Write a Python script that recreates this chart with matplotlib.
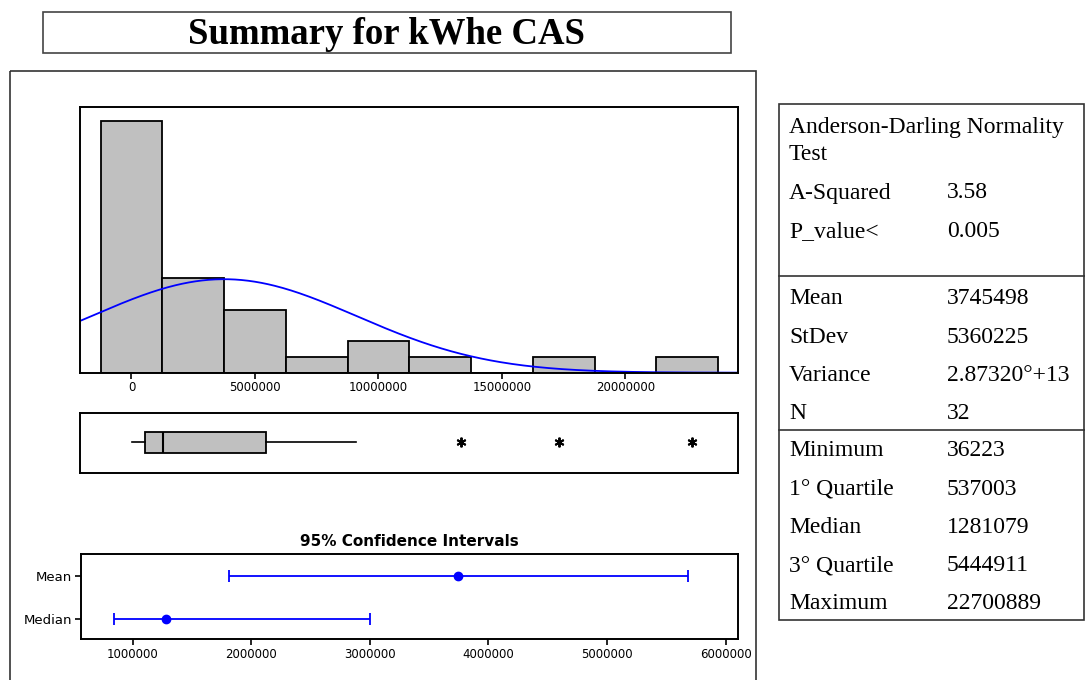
import numpy as np
import matplotlib
matplotlib.use("Agg")
import matplotlib.pyplot as plt
from matplotlib.patches import Rectangle

# histogram of kWhe CAS (counts per 2.5M bin)
bin_centers = [0, 2.5e6, 5.0e6, 7.5e6, 10.0e6, 12.5e6, 15.0e6, 17.5e6, 20.0e6, 22.5e6]
bin_counts = [16, 6, 4, 1, 2, 1, 0, 1, 0, 1]

# descriptive statistics
n_obs = 32
mean_val = 3745498
stdev_val = 5360225
minimum = 36223
q1 = 537003
median_val = 1281079
q3 = 5444911
maximum = 22700889
whisker_hi = 9.1e6
outliers = [13.35e6, 17.3e6, maximum]

# 95% confidence intervals
ci_labels = ["Median", "Mean"]
ci_centers = [median_val, mean_val]
ci_low = [845000, 1810000]
ci_high = [3005000, 5685000]

hist_ticks = [0, 5000000, 10000000, 15000000, 20000000]
ci_ticks = [1000000, 2000000, 3000000, 4000000, 5000000, 6000000]

table_ad = [("A-Squared", "3.58"), ("P_value<", "0.005")]
table_desc = [("Mean", "3745498"), ("StDev", "5360225"),
              ("Variance", "2.87320°+13"), ("N", "32")]
table_quant = [("Minimum", "36223"), ("1° Quartile", "537003"),
               ("Median", "1281079"), ("3° Quartile", "5444911"),
               ("Maximum", "22700889")]

W, H = 1085, 680
fig = plt.figure(figsize=(W / 100, H / 100), dpi=100)
fig.patch.set_facecolor("white")

def px_axes(x0, y0, x1, y1):
    return fig.add_axes([x0 / W, 1 - y1 / H, (x1 - x0) / W, (y1 - y0) / H])

xtick_font = dict(family="DejaVu Sans", size=8.5, color="#1a1a1a")
ytick_font = dict(family="DejaVu Sans", size=9.5, color="#1a1a1a")
serif = "Liberation Serif"

# page-level frames and the statistics table
page = fig.add_axes([0, 0, 1, 1], zorder=-1)
page.set_xlim(0, W)
page.set_ylim(H, 0)
page.axis("off")
page.add_patch(Rectangle((43, 11.7), 687.5, 41.6, fill=False, ec="#444444", lw=1.2))
page.text(387, 34, "Summary for kWhe CAS", ha="center", va="center",
          family=serif, weight="bold", size=26.5)
page.add_patch(Rectangle((9.5, 70.7), 746, 640, fill=False, ec="#333333", lw=1.2))

tx0, tx1, ty0, ty1 = 779, 1083.5, 104, 620
page.add_patch(Rectangle((tx0, ty0), tx1 - tx0, ty1 - ty0, fill=False, ec="#333333", lw=1.2))
page.plot([tx0, 1085], [276, 276], color="#333333", lw=1.2)
page.plot([tx0, 1085], [430, 430], color="#333333", lw=1.2)
lab_x, val_x, step = 789, 947, 38.2
tfont = dict(family=serif, size=17, va="center", ha="left")
page.text(lab_x, 127, "Anderson-Darling Normality", **tfont)
page.text(lab_x, 155, "Test", **tfont)
for i, (lab, val) in enumerate(table_ad):
    page.text(lab_x, 193 + i * step, lab, **tfont)
    page.text(val_x, 193 + i * step, val, **tfont)
for i, (lab, val) in enumerate(table_desc):
    page.text(lab_x, 299 + i * step, lab, **tfont)
    page.text(val_x, 299 + i * step, val, **tfont)
for i, (lab, val) in enumerate(table_quant):
    page.text(lab_x, 451 + i * step, lab, **tfont)
    page.text(val_x, 451 + i * step, val, **tfont)

# histogram with fitted normal curve
ax_h = px_axes(80, 107.3, 738.3, 372.7)
bin_w = bin_centers[1] - bin_centers[0]
ax_h.bar(bin_centers, bin_counts, width=bin_w, color="#c0c0c0",
         edgecolor="black", linewidth=1.3)
xlo, xhi = -2.085e6, 24.57e6
xs = np.linspace(xlo, xhi, 400)
pdf = np.exp(-0.5 * ((xs - mean_val) / stdev_val) ** 2) / (stdev_val * np.sqrt(2 * np.pi))
ax_h.plot(xs, pdf * n_obs * bin_w, color="#0000ff", lw=1.3)
ax_h.set_xlim(xlo, xhi)
ax_h.set_ylim(0, 16.9)
ax_h.set_yticks([])
ax_h.set_xticks(hist_ticks)
ax_h.set_xticklabels([str(t) for t in hist_ticks], **xtick_font)

# boxplot on the same scale
ax_b = px_axes(80, 413.3, 738.3, 473.3)
stats = [dict(med=median_val, q1=q1, q3=q3, whislo=minimum, whishi=whisker_hi,
              fliers=outliers)]
ax_b.bxp(stats, positions=[0], widths=0.7, vert=False, showcaps=False,
         patch_artist=True,
         boxprops=dict(facecolor="#c0c0c0", edgecolor="black", lw=1.3),
         medianprops=dict(color="black", lw=1.5),
         whiskerprops=dict(color="black", lw=1.2),
         flierprops=dict(marker=(6, 2, 0), markersize=7, markeredgecolor="black",
                         markeredgewidth=1.4, linestyle="none"))
ax_b.set_xlim(xlo, xhi)
ax_b.set_ylim(-1.03, 0.97)
ax_b.set_xticks([])
ax_b.set_yticks([])

# confidence intervals
ax_c = px_axes(80.7, 554.3, 738.3, 639.3)
ypos = np.arange(len(ci_labels))
for y, c, lo, hi in zip(ypos, ci_centers, ci_low, ci_high):
    ax_c.errorbar([c], [y], xerr=[[c - lo], [hi - c]], fmt="o", color="#0000ff",
                  ms=6, lw=1.3, capsize=4.5, capthick=1.3)
ax_c.set_xlim(562000, 6106000)
ax_c.set_ylim(-0.46, 1.5)
ax_c.set_yticks(ypos)
ax_c.set_yticklabels(ci_labels, **ytick_font)
ax_c.set_xticks(ci_ticks)
ax_c.set_xticklabels([str(t) for t in ci_ticks], **xtick_font)
fig.text(409.5 / W, 1 - 541 / H, "95% Confidence Intervals", ha="center", va="center",
         family="DejaVu Sans", weight="bold", size=11)

for ax in (ax_h, ax_b, ax_c):
    for s in ax.spines.values():
        s.set_linewidth(1.4)
    ax.tick_params(direction="out", length=4, width=1.2, pad=2, colors="black")

fig.savefig("out.png", dpi=100)
